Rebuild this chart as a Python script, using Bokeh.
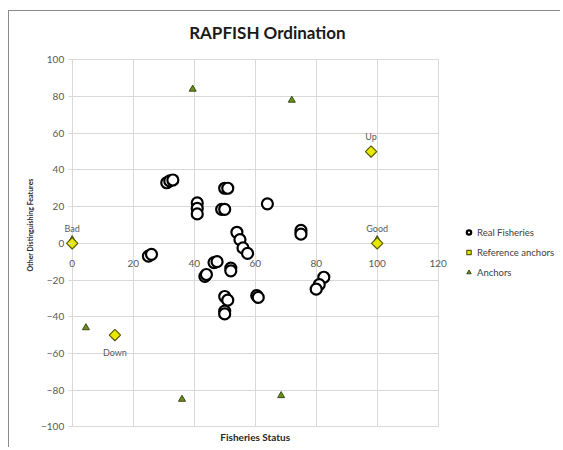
import math
from bokeh.plotting import figure
from bokeh.models import (Range1d, FixedTicker, Legend, LegendItem, Label,
                          ColumnDataSource, LabelSet)
from bokeh.core.properties import value
from bokeh.embed import file_html
from bokeh.resources import INLINE

# ---------------- data ----------------
fish_x = [25, 26, 31, 32, 33, 41, 41, 41, 49, 50, 50, 51, 64, 54, 55, 56, 57.5,
          75, 75, 46.5, 47.5, 43.5, 44, 52, 52, 50, 51, 50, 50, 60.5, 61, 82.5, 81, 80]
fish_y = [-7, -6, 33, 34, 34.5, 22, 19, 16, 18.5, 18.5, 30, 30, 21.5, 6, 2, -2.5, -5.5,
          7, 5, -10.5, -10, -18, -17, -13.5, -15, -29, -31, -37, -38.5, -28.5, -29.5,
          -18.5, -22.5, -25]

ref_x = [0, 100, 98, 14]
ref_y = [0, 0, 50, -50]
ref_labels = ["Bad", "Good", "Up", "Down"]
ref_label_dy = [15, 15, 15, -17]

anc_x = [0, 100, 39.5, 72, 4.5, 36, 68.5]
anc_y = [2, 2, 84, 78, -46, -85, -83]

x_ticks = [0, 20, 40, 60, 80, 100, 120]
y_ticks = [-100, -80, -60, -40, -20, 0, 20, 40, 60, 80, 100]

TITLE = "RAPFISH Ordination"
X_TITLE = "Fisheries Status"
Y_TITLE = "Other Distinguishing Features"

FONT = "Lato"
GRID = "#d9d9d9"
TXT = "#595959"
DIAMOND_FILL = "#e8e800"
DIAMOND_LINE = "#5a5a00"

# layout: the frame spans the whole figure; data area 0..120 x -100..100
W, H = 551, 436
FW, FH = W - 4, H - 4
PX_X, PX_Y = 3.05, 1.835
X0 = -60.7 / PX_X
Y1 = 100 + 46.3 / PX_Y

p = figure(frame_width=FW, frame_height=FH, output_backend="svg",
           toolbar_location=None, title=None,
           x_range=Range1d(X0, X0 + FW / PX_X), y_range=Range1d(Y1 - FH / PX_Y, Y1),
           min_border_left=2, min_border_right=2, min_border_top=2,
           min_border_bottom=2, background_fill_color="white",
           border_fill_color="white", outline_line_color=None)
p.margin = (10, 0, 0, 8)
p.styles = {"border-top": "1px solid #8a8a8a", "border-left": "1px solid #8a8a8a"}

# grids limited to the data area
p.xgrid.ticker = FixedTicker(ticks=x_ticks)
p.ygrid.ticker = FixedTicker(ticks=y_ticks)
p.xgrid.grid_line_color = GRID
p.ygrid.grid_line_color = GRID
p.xgrid.cross_bounds = (y_ticks[0], y_ticks[-1])
p.ygrid.cross_bounds = (x_ticks[0], x_ticks[-1])

# x axis crossing at y = 0
p.xaxis.fixed_location = 0
p.xaxis.bounds = (x_ticks[0], x_ticks[-1])
p.xaxis.ticker = FixedTicker(ticks=x_ticks)
p.xaxis.axis_line_color = None
p.xaxis.major_tick_line_color = None
p.xaxis.minor_tick_line_color = None
p.xaxis.major_label_standoff = 11
p.xaxis.major_label_text_font = FONT
p.xaxis.major_label_text_font_size = "10px"
p.xaxis.major_label_text_color = TXT

# y axis at x = 0
p.yaxis.fixed_location = 0
p.yaxis.bounds = (-100, 120)
p.yaxis.ticker = FixedTicker(ticks=y_ticks)
p.yaxis.axis_line_color = None
p.yaxis.major_tick_line_color = GRID
p.yaxis.major_tick_out = 4
p.yaxis.major_tick_in = 0
p.yaxis.minor_tick_line_color = None
p.yaxis.major_label_standoff = 4
p.yaxis.major_label_text_font = FONT
p.yaxis.major_label_text_font_size = "10px"
p.yaxis.major_label_text_color = TXT
p.yaxis.axis_label = Y_TITLE
p.yaxis.axis_label_text_font = FONT
p.yaxis.axis_label_text_font_size = "7px"
p.yaxis.axis_label_text_font_style = "bold"
p.yaxis.axis_label_text_color = "#262626"
p.yaxis.axis_label_standoff = 4

# chart title and x axis title
p.add_layout(Label(x=64, y=115, text=TITLE, text_align="center",
                   text_baseline="middle", text_font=FONT, text_font_size="17px",
                   text_font_style="bold", text_color="#1a1a1a"))
p.add_layout(Label(x=60, y=-105.8, text=X_TITLE, text_align="center",
                   text_baseline="middle", text_font=FONT, text_font_size="10px",
                   text_font_style="bold", text_color="#262626"))

r_fish = p.scatter(fish_x, fish_y, marker="circle", size=11, fill_color="white",
                   line_color="black", line_width=2.2)
r_anc = p.scatter(anc_x, anc_y, marker="triangle", size=7, fill_color="#6b8e23",
                  line_color="#3a4d12", line_width=1)
r_ref = p.scatter(ref_x, ref_y, marker="square", angle=math.pi / 4, size=8,
                  fill_color=DIAMOND_FILL, line_color=DIAMOND_LINE, line_width=1.2)

ref_src = ColumnDataSource(dict(x=ref_x, y=ref_y, t=ref_labels, dy=ref_label_dy))
p.add_layout(LabelSet(x="x", y="y", text="t", source=ref_src, text_align="center",
                      text_baseline="middle", y_offset="dy", text_font=value(FONT),
                      text_font_size="9px", text_color=TXT))

legend = Legend(items=[LegendItem(label="Real Fisheries", renderers=[r_fish]),
                       LegendItem(label="Reference anchors", renderers=[r_ref]),
                       LegendItem(label="Anchors", renderers=[r_anc])],
                location=(452, 166), background_fill_alpha=0, border_line_color=None,
                label_text_font=FONT, label_text_font_size="9.5px",
                label_text_color="#404040", glyph_width=11, glyph_height=14,
                label_height=14, spacing=6, padding=0, margin=0, label_standoff=3)
p.add_layout(legend, "center")

open("out.html", "w").write(file_html(p, INLINE))
